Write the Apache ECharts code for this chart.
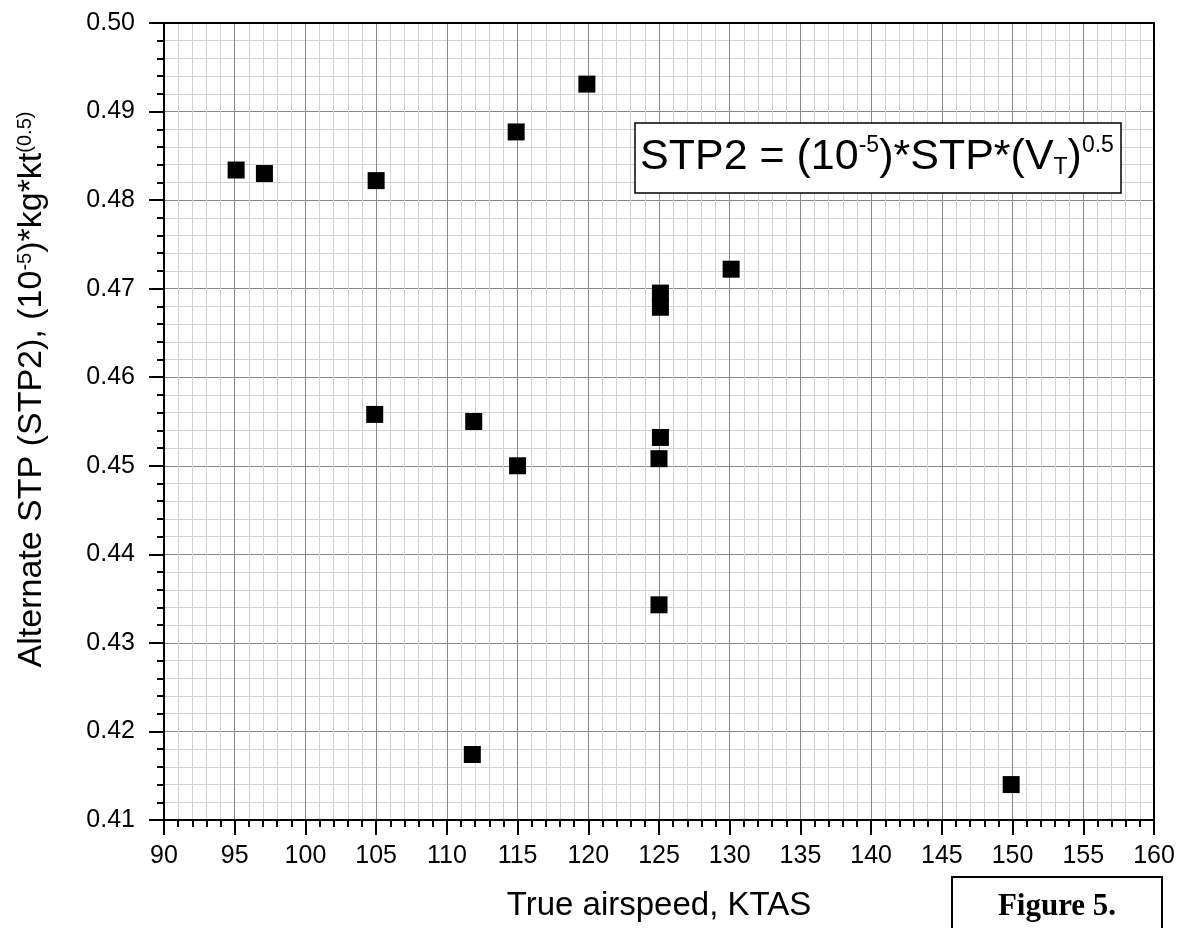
<!DOCTYPE html>
<html>
<head>
<meta charset="utf-8">
<script src="https://cdn.jsdelivr.net/npm/echarts@6/dist/echarts.min.js"></script>
<style>
  html, body { margin: 0; padding: 0; background: #fff; }
  #chart { width: 1178px; height: 928px; }
</style>
</head>
<body>
<div id="chart"></div>
<script>
// data
const airspeed = [95.1, 97.1, 105.0, 114.9, 119.9, 130.1, 125.1, 125.1, 104.9, 111.9, 115.0, 125.1, 125.0, 125.0, 111.8, 149.9];
const stp2 = [0.4834, 0.4830, 0.4822, 0.4877, 0.4931, 0.4722, 0.4695, 0.4679, 0.4558, 0.4550, 0.4500, 0.4532, 0.4508, 0.4343, 0.4174, 0.4140];

const xMin = 90, xMax = 160, xStep = 5;
const yMin = 0.41, yMax = 0.50, yStep = 0.01;

const sans = 'Liberation Sans, Arial, sans-serif';

let chart = echarts.init(document.getElementById('chart'));

let points = airspeed.map((v, i) => [v, stp2[i]]);

let option = {
    backgroundColor: '#fff',
    animation: false,
    grid: { left: 164, right: 24, top: 23, bottom: 108 },
    xAxis: [
        {
            type: 'value', min: xMin, max: xMax, interval: xStep,
            name: 'True airspeed, KTAS', nameLocation: 'middle', nameGap: 69,
            nameTextStyle: { fontFamily: sans, fontSize: 33, color: '#000' },
            axisLine: { show: true, onZero: false, lineStyle: { color: '#000', width: 2 } },
            axisTick: { show: true, inside: false, length: 15, lineStyle: { color: '#000', width: 2 } },
            minorTick: { show: true, splitNumber: 5, length: 7, lineStyle: { color: '#000', width: 2 } },
            axisLabel: { fontFamily: sans, fontSize: 25, color: '#000', margin: 24 },
            splitLine: { show: true, lineStyle: { color: '#8a8a8a', width: 1 } },
            minorSplitLine: { show: true, lineStyle: { color: '#d2d2d2', width: 1 } }
        },
        {
            type: 'value', position: 'top', min: xMin, max: xMax,
            axisLine: { show: true, onZero: false, lineStyle: { color: '#000', width: 2 } },
            axisTick: { show: false }, axisLabel: { show: false }, splitLine: { show: false }
        }
    ],
    yAxis: [
        {
            type: 'value', min: yMin, max: yMax, interval: yStep,
            name: '{m|Alternate STP (STP2), (10}{s|-5}{m|)*kg*kt}{s|(0.5)}',
            nameLocation: 'middle', nameGap: 115, nameRotate: 90,
            nameTextStyle: {
                color: '#000', padding: [0, 0, 0, 64],
                rich: {
                    m: { fontFamily: sans, fontSize: 34, color: '#000' },
                    s: { fontFamily: sans, fontSize: 20, color: '#000', verticalAlign: 'top' }
                }
            },
            axisLine: { show: true, onZero: false, lineStyle: { color: '#000', width: 2 } },
            axisTick: { show: true, inside: false, length: 15, lineStyle: { color: '#000', width: 2 } },
            minorTick: { show: true, splitNumber: 5, length: 7, lineStyle: { color: '#000', width: 2 } },
            axisLabel: { fontFamily: sans, fontSize: 25, color: '#000', margin: 29, formatter: v => v.toFixed(2) },
            splitLine: { show: true, lineStyle: { color: '#8a8a8a', width: 1 } },
            minorSplitLine: { show: true, lineStyle: { color: '#d2d2d2', width: 1 } }
        },
        {
            type: 'value', position: 'right', min: yMin, max: yMax,
            axisLine: { show: true, onZero: false, lineStyle: { color: '#000', width: 2 } },
            axisTick: { show: false }, axisLabel: { show: false }, splitLine: { show: false }
        }
    ],
    series: [
        {
            type: 'scatter',
            symbol: 'rect',
            symbolSize: 17,
            itemStyle: { color: '#000', opacity: 1, borderWidth: 0 },
            emphasis: { disabled: true },
            data: points,
            z: 5
        }
    ],
    graphic: [
        // formula box
        {
            type: 'rect', z: 100,
            shape: { x: 635, y: 123, width: 486, height: 70 },
            style: { fill: '#fff', stroke: '#000', lineWidth: 1.5 }
        },
        {
            type: 'text', z: 101, x: 640, y: 157,
            style: {
                text: '{m|STP2 = (10}{s|-5}{m|)*STP*(V}{b|T}{m|)}{s|0.5}',
                align: 'left', verticalAlign: 'middle',
                rich: {
                    m: { fontFamily: sans, fontSize: 43, fill: '#000' },
                    s: { fontFamily: sans, fontSize: 23, fill: '#000', verticalAlign: 'top' },
                    b: { fontFamily: sans, fontSize: 23, fill: '#000', verticalAlign: 'top', padding: [22, 0, 0, 0] }
                }
            }
        },
        // figure caption box
        {
            type: 'rect', z: 100,
            shape: { x: 952, y: 877, width: 210, height: 80 },
            style: { fill: '#fff', stroke: '#000', lineWidth: 2 }
        },
        {
            type: 'text', z: 101, x: 1057, y: 907,
            style: {
                text: 'Figure 5.', align: 'center', verticalAlign: 'middle',
                fontFamily: 'Liberation Serif, Times New Roman, serif', fontWeight: 'bold', fontSize: 31, fill: '#000'
            }
        }
    ]
};

chart.setOption(option);
</script>
</body>
</html>
